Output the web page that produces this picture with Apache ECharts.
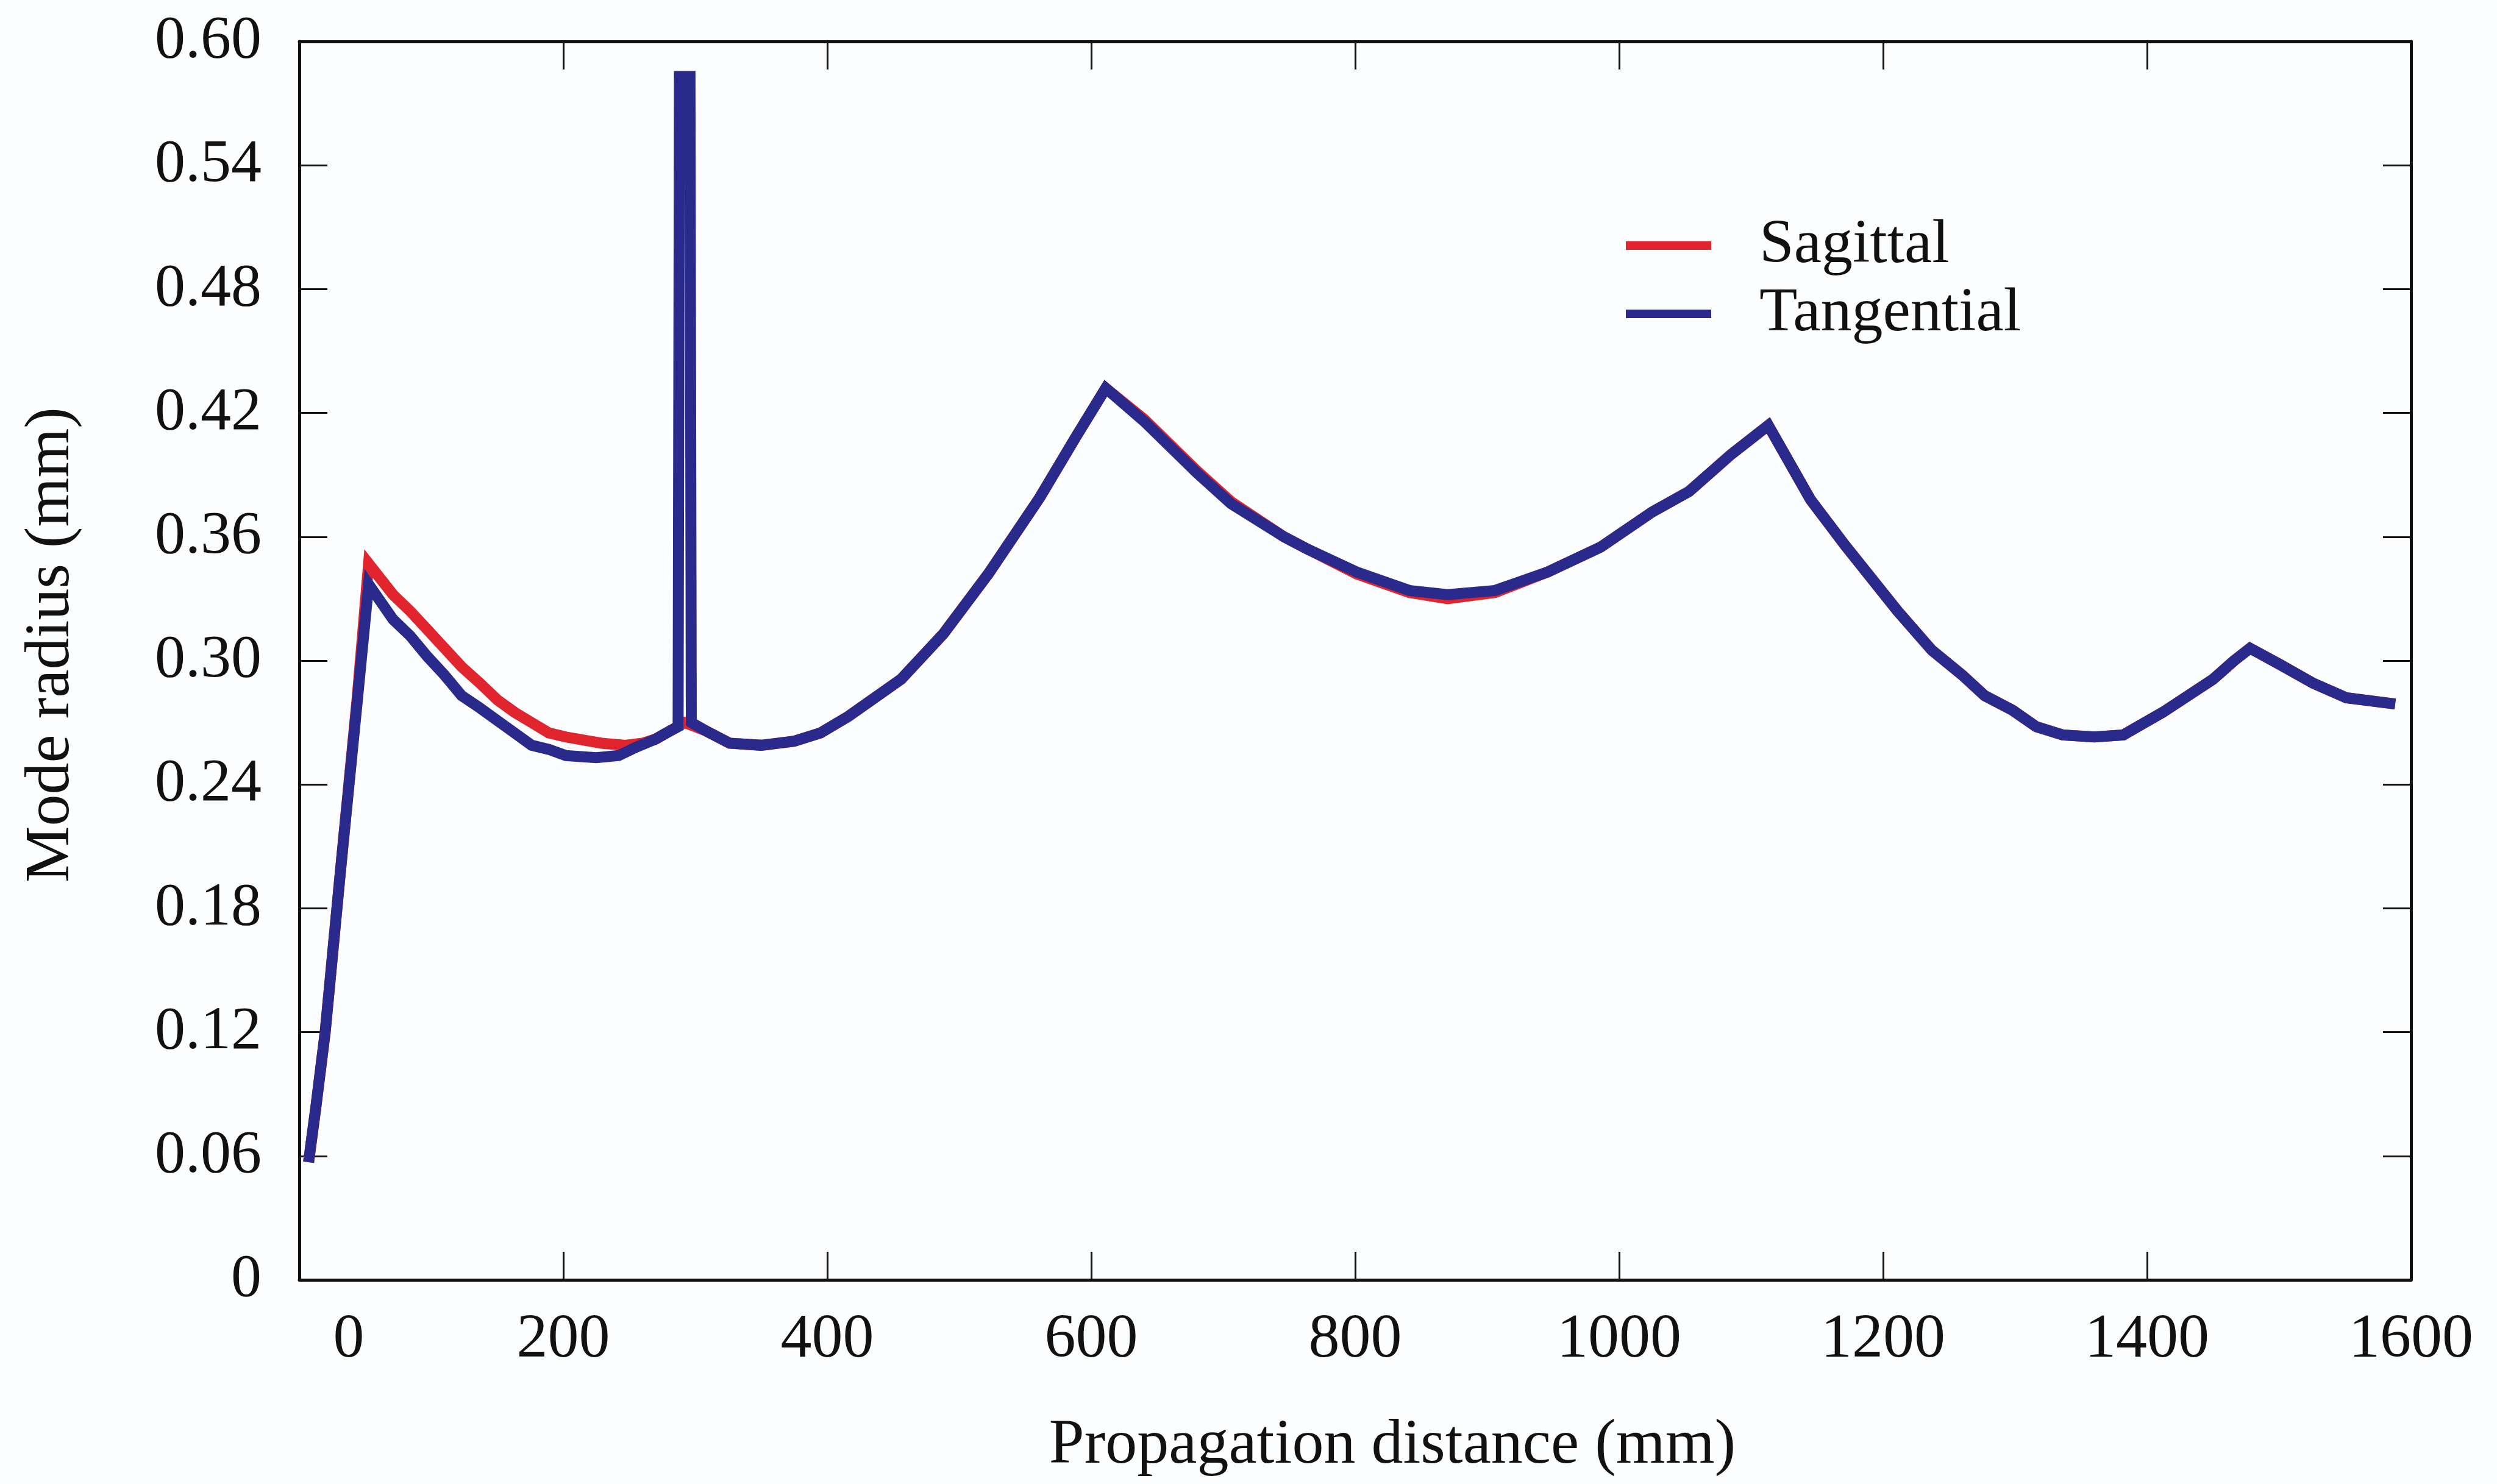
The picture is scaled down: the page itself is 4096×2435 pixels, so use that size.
<!DOCTYPE html>
<html>
<head>
  <meta charset="utf-8">
  <title>Mode radius vs propagation distance</title>
  <style>
    html, body { margin: 0; padding: 0; background: #fcfdfe; }
    #chart { width: 4096px; height: 2435px; }
  </style>
</head>
<body>
  <div id="chart"></div>
  <script src="https://cdn.jsdelivr.net/npm/echarts@6/dist/echarts.min.js"></script>
  <script>
    // axis ticks
    const xTicks = [0, 200, 400, 600, 800, 1000, 1200, 1400, 1600];
    const yTicks = [0, 0.06, 0.12, 0.18, 0.24, 0.30, 0.36, 0.42, 0.48, 0.54, 0.60];

    // Tangential (mm)
    const tangentialX = [7, 12.4, 19.6, 31, 44, 52.5, 71, 84, 97, 110, 123, 137, 150, 163, 176, 189, 202, 225, 242, 255, 270,
      281, 287, 288, 296, 297, 308, 326, 350, 375, 395, 416, 456, 488, 522, 561, 588, 611, 640, 680, 706,
      746, 764, 801, 841, 870, 906, 946, 986, 1025, 1053, 1085, 1113, 1145, 1171, 1211, 1237, 1260, 1277,
      1298, 1316, 1336, 1360, 1382, 1412, 1450, 1466, 1478, 1501, 1526, 1551, 1588];
    const tangentialY = [0.057, 0.083, 0.120, 0.197, 0.281, 0.337, 0.320, 0.312, 0.302, 0.293, 0.283, 0.277, 0.271, 0.265, 0.259, 0.257, 0.254, 0.253, 0.254, 0.258, 0.262,
      0.266, 0.268, 0.583, 0.583, 0.270, 0.266, 0.260, 0.259, 0.261, 0.265, 0.273, 0.291, 0.313, 0.342, 0.379, 0.408, 0.432, 0.416, 0.391, 0.376,
      0.360, 0.354, 0.343, 0.334, 0.332, 0.334, 0.343, 0.355, 0.372, 0.382, 0.400, 0.414, 0.378, 0.356, 0.324, 0.305, 0.293, 0.283,
      0.276, 0.268, 0.264, 0.263, 0.264, 0.275, 0.291, 0.300, 0.306, 0.298, 0.289, 0.282, 0.279];

    // Sagittal (mm)
    const sagittalX = [7, 12.4, 19.6, 31, 44, 52.5, 71, 84, 97, 110, 123, 137, 150, 163, 176, 189, 202, 229, 247, 260, 270,
      281, 292, 308, 326, 350, 375, 395, 416, 456, 488, 522, 561, 588, 611, 640, 680, 706, 746, 764, 801,
      841, 870, 906, 946, 986, 1025, 1053, 1085, 1113, 1145, 1171, 1211, 1237, 1260, 1277, 1298, 1316, 1336,
      1360, 1382, 1412, 1450, 1466, 1478, 1501, 1526, 1551, 1588];
    const sagittalY = [0.057, 0.083, 0.120, 0.197, 0.283, 0.347, 0.332, 0.324, 0.315, 0.306, 0.297, 0.289, 0.281, 0.275, 0.270, 0.265, 0.263, 0.260, 0.259, 0.260, 0.262,
      0.266, 0.270, 0.266, 0.260, 0.259, 0.261, 0.265, 0.273, 0.291, 0.313, 0.342, 0.379, 0.408, 0.432, 0.417, 0.392, 0.377, 0.360, 0.354, 0.342,
      0.333, 0.330, 0.333, 0.343, 0.355, 0.372, 0.382, 0.400, 0.414, 0.378, 0.356, 0.324, 0.305, 0.293, 0.283, 0.276, 0.268, 0.264,
      0.263, 0.264, 0.275, 0.291, 0.300, 0.306, 0.298, 0.289, 0.282, 0.279];

    const font = "'Liberation Serif', 'Times New Roman', serif";
    const ink = '#111';
    const red = '#e0252f';
    const blue = '#2a2a8c';

    const zip = (xs, ys) => xs.map((x, i) => [x, ys[i]]);

    const xRange = {
      min: xTicks[0],
      max: xTicks[xTicks.length - 1],
      interval: xTicks[1] - xTicks[0]
    };
    const yRange = {
      min: yTicks[0],
      max: yTicks[yTicks.length - 1],
      interval: yTicks[1] - yTicks[0]
    };
    const axisLine = { show: true, onZero: false, lineStyle: { color: ink, width: 5 } };
    const axisTick = { show: true, inside: true, length: 46, lineStyle: { color: ink, width: 3 } };

    const chart = echarts.init(document.getElementById('chart'));
    chart.setOption({
      backgroundColor: '#fcfdfe',
      animation: false,
      grid: { left: 491, right: 141, top: 68, bottom: 335 },
      legend: {
        orient: 'vertical',
        left: 2662,
        top: 347,
        itemGap: 10,
        itemWidth: 140,
        itemHeight: 14,
        icon: 'rect',
        textStyle: { fontFamily: font, fontSize: 102, color: ink, padding: [0, 0, 0, 74] },
        data: ['Sagittal', 'Tangential']
      },
      xAxis: [{
        type: 'value',
        ...xRange,
        name: 'Propagation distance (mm)',
        nameLocation: 'middle',
        nameGap: 221,
        nameTextStyle: { fontFamily: font, fontSize: 104, color: ink, padding: [0, 0, 0, 122] },
        axisLine, axisTick,
        splitLine: { show: false },
        axisLabel: {
          margin: 48,
          fontFamily: font, fontSize: 102, color: ink,
          formatter: v => (v === 0 ? '{z|0}' : String(v)),
          rich: { z: { fontFamily: font, fontSize: 102, color: ink, padding: [0, 0, 0, 162] } }
        }
      }, {
        type: 'value',
        position: 'top',
        ...xRange,
        axisLine, axisTick,
        splitLine: { show: false },
        axisLabel: { show: false }
      }],
      yAxis: [{
        type: 'value',
        ...yRange,
        name: 'Mode radius (mm)',
        nameLocation: 'middle',
        nameGap: 354,
        nameTextStyle: { fontFamily: font, fontSize: 104, color: ink, padding: [0, 0, 0, 52] },
        axisLine, axisTick,
        splitLine: { show: false },
        axisLabel: {
          margin: 62,
          fontFamily: font, fontSize: 100, color: ink,
          formatter: v => (v === 0 ? '0' : v.toFixed(2))
        }
      }, {
        type: 'value',
        position: 'right',
        ...yRange,
        axisLine, axisTick,
        splitLine: { show: false },
        axisLabel: { show: false }
      }],
      series: [{
        name: 'Sagittal',
        type: 'line',
        data: zip(sagittalX, sagittalY),
        showSymbol: false,
        symbol: 'none',
        color: red,
        lineStyle: { color: red, width: 18, join: 'miter' }
      }, {
        name: 'Tangential',
        type: 'line',
        data: zip(tangentialX, tangentialY),
        showSymbol: false,
        symbol: 'none',
        color: blue,
        lineStyle: { color: blue, width: 18, join: 'miter' }
      }]
    });
  </script>
</body>
</html>
